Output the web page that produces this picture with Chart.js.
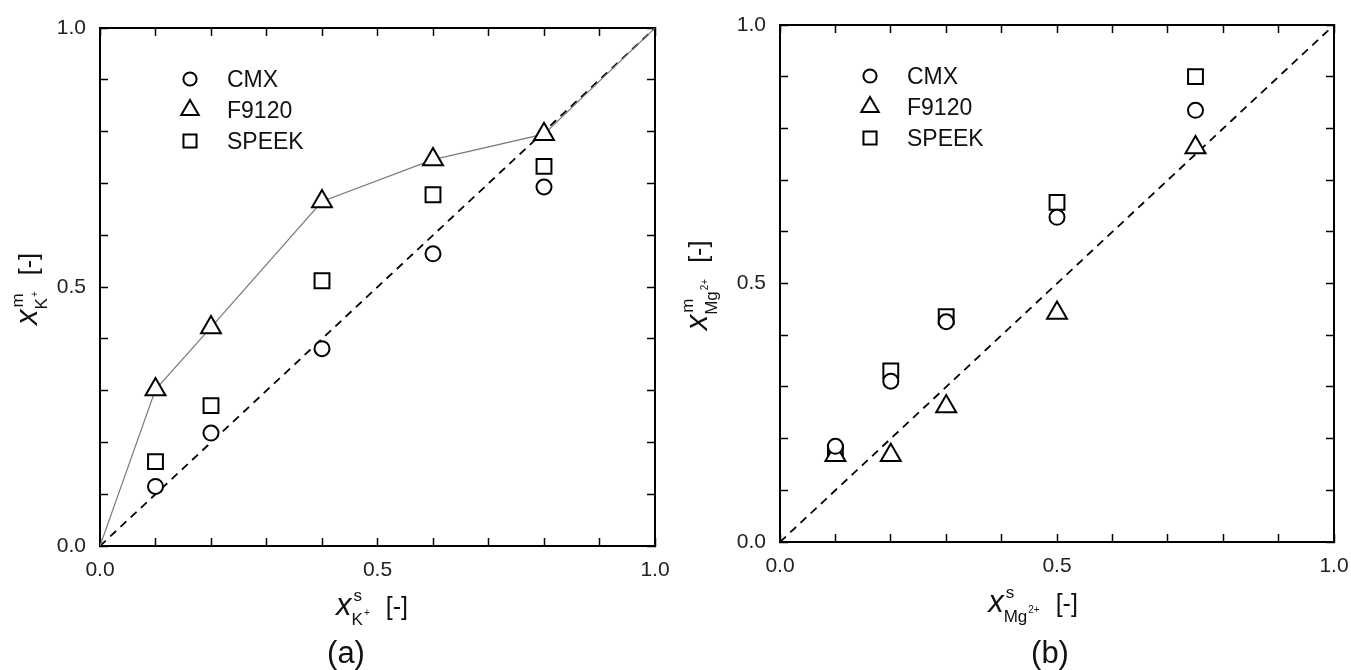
<!DOCTYPE html>
<html>
<head>
<meta charset="utf-8">
<title>Ion fractions in membrane vs. solution</title>
<script src="https://cdn.jsdelivr.net/npm/chart.js@4.4.1/dist/chart.umd.min.js"></script>
<style>
    html, body { margin: 0; padding: 0; background: #fff; }
    body { width: 1351px; height: 670px; position: relative; overflow: hidden; }
    .panel { position: absolute; top: 0; height: 670px; }
    #panelA { left: 0; width: 680px; }
    #panelB { left: 680px; width: 671px; }
</style>
</head>
<body>
<div class="panel" id="panelA"><canvas id="chartA"></canvas></div>
<div class="panel" id="panelB"><canvas id="chartB"></canvas></div>
<script>
// Series names (same for both panels)
const seriesNames = ['CMX', 'F9120', 'SPEEK'];

// (a) K+ fraction in solution vs. in membrane
const kSolution = [0.1, 0.2, 0.4, 0.6, 0.8];
const kCMX = [0.115, 0.218, 0.381, 0.564, 0.693];
const kF9120 = [0.302, 0.422, 0.665, 0.746, 0.795];
const kSPEEK = [0.163, 0.271, 0.512, 0.678, 0.733];

// guide line through the F9120 points, pinned at (0,0) and (1,1)
const kGuideX = [0, ...kSolution, 1];
const kGuideY = [0, ...kF9120, 1];

// (b) Mg2+ fraction in solution vs. in membrane
const mgSolution = [0.1, 0.2, 0.3, 0.5, 0.75];
const mgCMX = [0.185, 0.311, 0.426, 0.628, 0.835];
const mgF9120 = [0.168, 0.168, 0.262, 0.443, 0.763];
const mgSPEEK = [0.173, 0.331, 0.436, 0.657, 0.900];

// y = x reference
const diagonal = [0, 1];

// axis ticks: marks every 0.1, labels only at these values
const tickStep = 0.1;
const tickValues = [0, 0.5, 1.0];
const tickLabels = ['0.0', '0.5', '1.0'];

const FONT = '"Liberation Sans", Arial, Helvetica, sans-serif';

const markerStyles = [
    { pointStyle: 'circle', radius: 7.5 },
    { pointStyle: 'triangle', radius: 11.5 },
    { pointStyle: 'rect', radius: 10.5 }
];

function tickLabel(value) {
    const i = tickValues.findIndex(v => Math.abs(v - value) < 1e-6);
    return i >= 0 ? tickLabels[i] : '';
}

/**
 * Linear 0..1 axis with inward tick marks
 * @param {string} position - top/bottom/left/right
 * @param {boolean} showLabels - draw tick labels
 * @param {number} size - fixed thickness of the axis box
 */
function makeAxis(position, showLabels, size) {
    const horizontal = position === 'top' || position === 'bottom';
    return {
        type: 'linear',
        position: position,
        min: 0,
        max: 1,
        border: { display: true, color: '#000', width: 2 },
        grid: {
            display: true,
            drawOnChartArea: false,
            drawTicks: true,
            tickLength: -8,
            tickWidth: 1.5,
            tickColor: '#000'
        },
        ticks: {
            display: showLabels,
            stepSize: tickStep,
            autoSkip: false,
            maxRotation: 0,
            padding: horizontal ? 20 : 22,
            color: '#222',
            font: { family: FONT, size: 21 },
            callback: tickLabel
        },
        afterFit: function (scale) {
            if (horizontal) {
                scale.height = size;
            } else {
                scale.width = size;
            }
            // end labels may overhang; keep the plot box where the layout puts it
            scale.paddingTop = 0;
            scale.paddingBottom = 0;
            scale.paddingLeft = 0;
            scale.paddingRight = 0;
        }
    };
}

/**
 * Draw x^{sup}_{sub^{subSup}}  [-] centred on (cx, cy)
 */
function drawMathTitle(ctx, cx, cy, angle, sup, sub, subSup) {
    ctx.save();
    ctx.translate(cx, cy);
    ctx.rotate(angle);
    ctx.fillStyle = '#111';
    ctx.textAlign = 'left';
    ctx.textBaseline = 'alphabetic';

    ctx.font = 'italic 31px ' + FONT;
    const wx = ctx.measureText('x').width;
    ctx.font = '17px ' + FONT;
    const wSup = ctx.measureText(sup).width;
    const wSub = ctx.measureText(sub).width;
    ctx.font = '10px ' + FONT;
    const wSubSup = ctx.measureText(subSup).width;
    ctx.font = '25px ' + FONT;
    const wBr = ctx.measureText('[-]').width;

    const scriptW = Math.max(wSup, wSub + wSubSup + 1);
    const gap = 14;
    const total = wx + 2 + scriptW + gap + wBr;
    let x = -total / 2;

    ctx.font = 'italic 31px ' + FONT;
    ctx.fillText('x', x, 0);
    x += wx + 2;
    ctx.font = '17px ' + FONT;
    ctx.fillText(sup, x, -14);
    ctx.fillText(sub, x - 2, 10);
    ctx.font = '10px ' + FONT;
    ctx.fillText(subSup, x - 1 + wSub, 1);
    x += scriptW + gap;
    ctx.font = '25px ' + FONT;
    ctx.fillText('[-]', x, 0);
    ctx.restore();
}

// axis titles, panel tag and the in-plot legend
const panelDecor = {
    id: 'panelDecor',
    afterDraw(chart, args, opts) {
        const ctx = chart.ctx;
        const area = chart.chartArea;

        drawMathTitle(ctx, opts.xTitleX, opts.xTitleY, 0, 's', opts.ion, opts.charge);
        drawMathTitle(ctx, opts.yTitleX, (area.top + area.bottom) / 2 + 2, -Math.PI / 2, 'm', opts.ion, opts.charge);

        ctx.save();
        ctx.fillStyle = '#111';
        ctx.font = '31px ' + FONT;
        ctx.textAlign = 'center';
        ctx.textBaseline = 'alphabetic';
        ctx.fillText(opts.tag, opts.tagX, 663);

        // legend
        const mx = area.left + 90;
        let my = area.top + 51;
        ctx.textAlign = 'left';
        ctx.font = '23px ' + FONT;
        seriesNames.forEach((name, i) => {
            ctx.strokeStyle = '#000';
            ctx.fillStyle = '#fff';
            ctx.lineWidth = 2;
            Chart.helpers.drawPoint(ctx, {
                pointStyle: markerStyles[i].pointStyle,
                radius: markerStyles[i].radius * 0.88,
                rotation: 0,
                borderWidth: 2
            }, mx, my);
            ctx.fillStyle = '#111';
            ctx.fillText(name, mx + 37, my + 8);
            my += 31;
        });
        ctx.restore();
    }
};

function markerDataset(label, xs, ys, i) {
    return {
        label: label,
        data: xs.map((x, j) => ({ x: x, y: ys[j] })),
        pointStyle: markerStyles[i].pointStyle,
        pointRadius: markerStyles[i].radius,
        pointBorderWidth: 2,
        pointBorderColor: '#000',
        pointBackgroundColor: '#fff',
        showLine: false
    };
}

function lineDataset(xs, ys, color, width, dash) {
    return {
        label: '',
        data: xs.map((x, j) => ({ x: x, y: ys[j] })),
        showLine: true,
        borderColor: color,
        borderWidth: width,
        borderDash: dash,
        pointRadius: 0,
        fill: false
    };
}

/**
 * Build one scatter panel
 */
function createPanel(canvasId, datasets, layout, decor) {
    const ctx = document.getElementById(canvasId).getContext('2d');
    return new Chart(ctx, {
        type: 'scatter',
        data: { datasets: datasets },
        options: {
            responsive: true,
            maintainAspectRatio: false,
            animation: false,
            events: [],
            layout: {
                autoPadding: false,
                padding: { left: 0, right: layout.right, top: layout.top, bottom: 0 }
            },
            plugins: {
                legend: { display: false },
                tooltip: { enabled: false },
                panelDecor: decor
            },
            scales: {
                x: makeAxis('bottom', true, layout.bottomAxis),
                y: makeAxis('left', true, 100),
                x2: makeAxis('top', false, 0),
                y2: makeAxis('right', false, 0)
            }
        },
        plugins: [panelDecor]
    });
}

createPanel('chartA', [
    markerDataset(seriesNames[0], kSolution, kCMX, 0),
    markerDataset(seriesNames[1], kSolution, kF9120, 1),
    markerDataset(seriesNames[2], kSolution, kSPEEK, 2),
    lineDataset(kGuideX, kGuideY, '#7a7a7a', 1.2, []),
    lineDataset(diagonal, diagonal, '#000', 1.8, [8, 6])
], { right: 25, top: 28, bottomAxis: 124 }, {
    ion: 'K', charge: '+', tag: '(a)', tagX: 346,
    xTitleX: 372, xTitleY: 615, yTitleX: 37
});

createPanel('chartB', [
    markerDataset(seriesNames[0], mgSolution, mgCMX, 0),
    markerDataset(seriesNames[1], mgSolution, mgF9120, 1),
    markerDataset(seriesNames[2], mgSolution, mgSPEEK, 2),
    lineDataset(diagonal, diagonal, '#000', 1.8, [8, 6])
], { right: 17, top: 25, bottomAxis: 128 }, {
    ion: 'Mg', charge: '2+', tag: '(b)', tagX: 370,
    xTitleX: 353, xTitleY: 612, yTitleX: 27
});
</script>
</body>
</html>
